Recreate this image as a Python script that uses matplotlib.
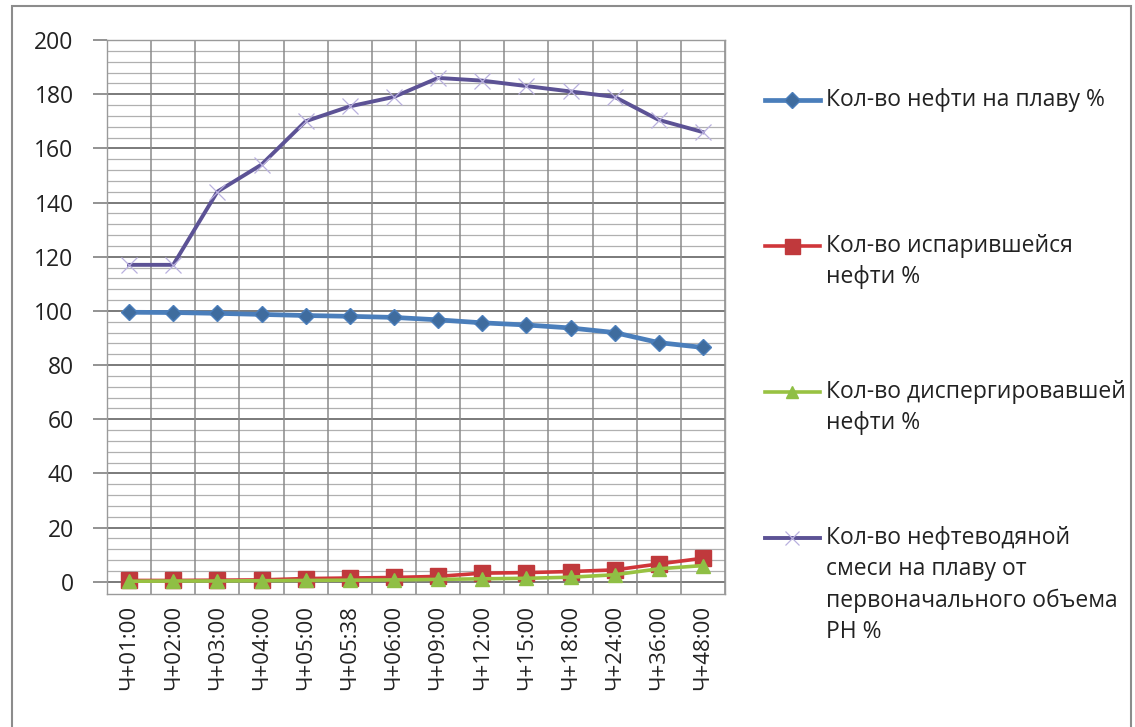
import matplotlib
matplotlib.use("Agg")
import matplotlib.pyplot as plt
from matplotlib.lines import Line2D
from matplotlib.patches import Rectangle
import numpy as np

plt.rcParams['font.family'] = ['Open Sans', 'DejaVu Sans']

# время от начала разлива
times = ['Ч+01:00', 'Ч+02:00', 'Ч+03:00', 'Ч+04:00', 'Ч+05:00', 'Ч+05:38', 'Ч+06:00',
         'Ч+09:00', 'Ч+12:00', 'Ч+15:00', 'Ч+18:00', 'Ч+24:00', 'Ч+36:00', 'Ч+48:00']

na_plavu = [99.5, 99.4, 99.1, 98.7, 98.3, 98.0, 97.6, 96.7, 95.6, 94.8, 93.7, 92.0, 88.3, 86.5]
isparilos = [0.5, 0.5, 0.6, 0.7, 1.2, 1.4, 1.6, 2.0, 3.2, 3.4, 3.8, 4.4, 6.6, 8.7]
dispergir = [0.2, 0.3, 0.3, 0.4, 0.5, 0.6, 0.7, 0.9, 1.1, 1.3, 1.7, 2.6, 4.8, 6.0]
smes = [117, 117, 144, 154, 170, 175.5, 179, 186, 185, 183, 181, 179, 170.5, 166]

names = ['Кол-во нефти на плаву %',
         'Кол-во испарившейся\nнефти %',
         'Кол-во диспергировавшей\nнефти %',
         'Кол-во нефтеводяной\nсмеси на плаву от\nпервоначального объема\nРН %']

W, H = 1135, 727
fig = plt.figure(figsize=(W / 100, H / 100), dpi=100)
fig.patch.set_facecolor('white')

# рамка вокруг диаграммы
fig.patches.append(Rectangle((12 / W, -0.01), 1119 / W, 1 - 6 / H + 0.01,
                             transform=fig.transFigure, fill=False,
                             edgecolor='#8c8c8c', lw=1.5))

ax = fig.add_axes([107 / W, 1 - 594 / H, 618 / W, 554 / H])
x = np.arange(len(times))

styles = [
    dict(color='#4a7ebb', lw=3.4, marker='D', ms=8.5, mfc='#3f6c9e', mec='#4a7ebb'),
    dict(color='#d0363a', lw=2.6, marker='s', ms=12, mfc='#c0393c', mec='#c0393c'),
    dict(color='#98c242', lw=2.6, marker='^', ms=10, mfc='#8fbf45', mec='#8fbf45'),
    dict(color='#5c5295', lw=2.8, marker='x', ms=11, mec='#b9b0de', mew=0.9),
]

for vals, st in zip([na_plavu, isparilos, dispergir, smes], styles):
    ax.plot(x, vals, zorder=3, clip_on=False, **st)

ax.set_xlim(-0.5, len(times) - 0.5)
ax.set_ylim(-4.5, 200)
ax.set_yticks(np.arange(0, 201, 20))
ax.set_yticks(np.arange(4, 200, 4), minor=True)
ax.set_xticks(x)
ax.set_xticklabels(times, rotation=90, fontsize=16, color='#222222')
ax.tick_params(axis='y', which='major', length=10, width=1.2, color='#808080',
               labelsize=16.5, labelcolor='#222222', pad=14)
ax.tick_params(axis='y', which='minor', length=0)
ax.tick_params(axis='x', length=0, pad=8)

ax.grid(axis='y', which='major', color='#707070', lw=1.3)
ax.grid(axis='y', which='minor', color='#b0b0b0', lw=0.9)
for b in np.arange(-0.5, len(times), 1.0):
    ax.axvline(b, color='#8a8a8a', lw=1.1, zorder=1)
ax.set_axisbelow(True)
for s in ax.spines.values():
    s.set_color('#9a9a9a')
    s.set_linewidth(1.0)

# легенда справа
leg_y = [100, 246, 392, 538]
for yy, st, name in zip(leg_y, styles, names):
    fy = 1 - yy / H
    fig.add_artist(Line2D([765 / W, 820 / W], [fy, fy], transform=fig.transFigure,
                          color=st['color'], lw=st['lw']))
    mk = {k: v for k, v in st.items() if k in ('marker', 'mfc', 'mec', 'mew')}
    fig.add_artist(Line2D([792 / W], [fy], transform=fig.transFigure, ms=st['ms'] * 0.9, **mk))
    fig.text(826 / W, fy + 12 / H, name, fontsize=16.5, color='#222222',
             va='top', ha='left', linespacing=1.4)

fig.savefig('out.png', dpi=100)
